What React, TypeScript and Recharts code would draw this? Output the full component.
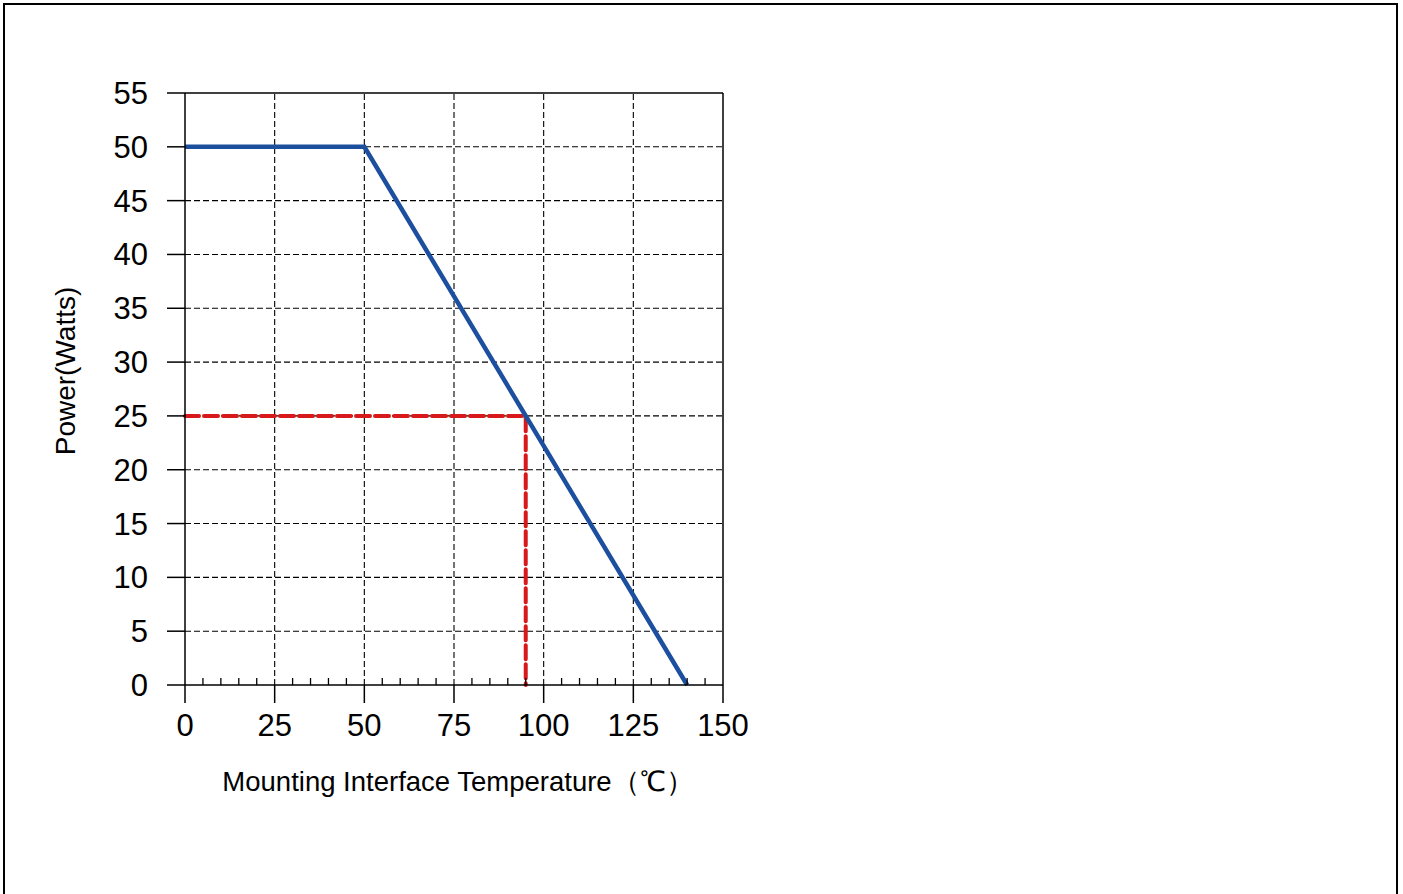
import { LineChart, Line, XAxis, YAxis, ReferenceLine } from "recharts";

// derating curve
const deratingTemp = [0, 50, 140];
const deratingPower = [50, 50, 0];

// example operating point (dashed red)
const exampleTemp = [0, 95, 95];
const examplePower = [25, 25, 0];

const xTicks = [
  0, 5, 10, 15, 20, 25, 30, 35, 40, 45, 50, 55, 60, 65, 70, 75, 80, 85, 90, 95, 100, 105, 110, 115, 120, 125, 130,
  135, 140, 145, 150,
];
const xMajorTicks = [0, 25, 50, 75, 100, 125, 150];
const yTicks = [0, 5, 10, 15, 20, 25, 30, 35, 40, 45, 50, 55];
const xGrid = [25, 50, 75, 100, 125];
const yGrid = [5, 10, 15, 20, 25, 30, 35, 40, 45, 50];

const deratingData = deratingTemp.map((t, i) => ({ temp: t, power: deratingPower[i] }));
const exampleData = exampleTemp.map((t, i) => ({ temp: t, power: examplePower[i] }));

const FONT = "'Liberation Sans', Arial, sans-serif";

function XTick({ x, y, payload }: any) {
  const v = payload.value;
  if (xMajorTicks.includes(v)) {
    return (
      <g>
        <line x1={x} x2={x} y1={y} y2={y + 18} stroke="#000" strokeWidth={1.5} />
        <text x={x} y={y + 51} textAnchor="middle" fontSize={31} fill="#000" fontFamily={FONT}>
          {v}
        </text>
      </g>
    );
  }
  return <line x1={x} x2={x} y1={y} y2={y - 7} stroke="#000" strokeWidth={1.3} />;
}

function YLabel({ viewBox }: any) {
  const cx = viewBox.x + 30;
  const cy = viewBox.y + viewBox.height / 2 - 18;
  return (
    <text
      x={cx}
      y={cy}
      transform={`rotate(-90, ${cx}, ${cy})`}
      textAnchor="middle"
      dominantBaseline="central"
      fontSize={28}
      fill="#000"
      fontFamily={FONT}
    >
      Power(Watts)
    </text>
  );
}

function XLabel({ viewBox }: any) {
  const cx = viewBox.x + viewBox.width / 2 + 4;
  return (
    <text x={cx} y={viewBox.y + 106} textAnchor="middle" fontSize={27.5} fill="#000" fontFamily={FONT}>
      Mounting Interface Temperature（℃）
    </text>
  );
}

export default function App() {
  return (
    <div style={{ position: "absolute", left: 0, top: 0, width: 1403, height: 894, overflow: "hidden", background: "#fff" }}>
      <div
        style={{
          position: "absolute",
          left: 3,
          top: 3,
          width: 1395,
          height: 891,
          boxSizing: "border-box",
          borderTop: "2px solid #000",
          borderLeft: "2px solid #000",
          borderRight: "2px solid #000",
        }}
      />
      <div style={{ position: "absolute", left: 0, top: 0 }}>
        <LineChart
          width={800}
          height={894}
          margin={{ top: 93, right: 77, left: 35, bottom: 89 }}
          style={{ fontFamily: FONT }}
        >
          <XAxis
            type="number"
            dataKey="temp"
            domain={[0, 150]}
            ticks={xTicks}
            interval={0}
            height={120}
            tickSize={0}
            tickMargin={0}
            tickLine={false}
            tick={<XTick />}
            axisLine={{ stroke: "#000", strokeWidth: 1.5 }}
            label={<XLabel />}
          />
          <YAxis
            type="number"
            domain={[0, 55]}
            ticks={yTicks}
            interval={0}
            width={150}
            tickSize={18}
            tickMargin={19}
            tickLine={{ stroke: "#000", strokeWidth: 1.5 }}
            axisLine={{ stroke: "#000", strokeWidth: 1.5 }}
            tick={{ fontSize: 31, fill: "#000" }}
            label={<YLabel />}
          />
          {xGrid.map((v) => (
            <ReferenceLine key={`gx${v}`} x={v} stroke="#000" strokeWidth={1.1} strokeDasharray="6 3" />
          ))}
          {yGrid.map((v) => (
            <ReferenceLine key={`gy${v}`} y={v} stroke="#000" strokeWidth={1.1} strokeDasharray="6 3" />
          ))}
          <ReferenceLine y={55} stroke="#000" strokeWidth={1.5} />
          <ReferenceLine x={150} stroke="#000" strokeWidth={1.5} />
          <Line
            data={exampleData}
            dataKey="power"
            type="linear"
            stroke="#d7191c"
            strokeWidth={4}
            strokeDasharray="14 5"
            strokeLinecap="round"
            dot={false}
            activeDot={false}
            isAnimationActive={false}
          />
          <Line
            data={deratingData}
            dataKey="power"
            type="linear"
            stroke="#1d4f9f"
            strokeWidth={4.5}
            dot={false}
            activeDot={false}
            isAnimationActive={false}
          />
        </LineChart>
      </div>
    </div>
  );
}
